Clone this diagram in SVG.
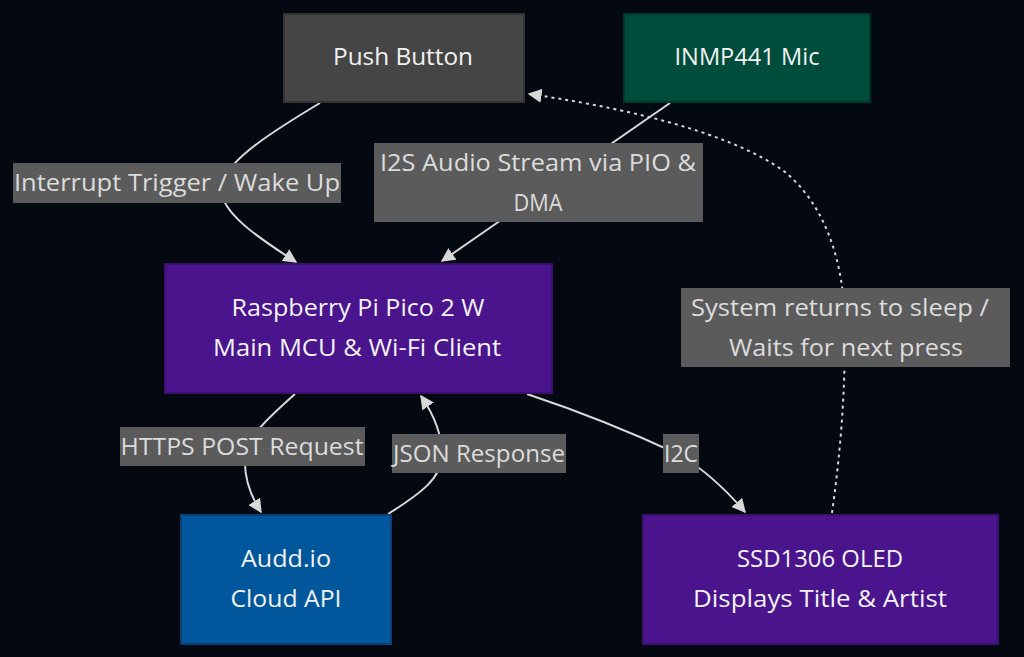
<svg xmlns="http://www.w3.org/2000/svg" width="1024" height="657" viewBox="0 0 1024 657">
<style>
.bg{fill:#040811}
.nt{font-family:"Open Sans","Liberation Sans",sans-serif;font-size:23px;fill:#f2f2f2;text-anchor:middle}
.lt{font-family:"Open Sans","Liberation Sans",sans-serif;font-size:23px;fill:#dcdcdc;text-anchor:middle}
.lb{fill:#5b5b5b}
.e{fill:none;stroke:#d8d8d8;stroke-width:2}
.d{fill:none;stroke:#d8d8d8;stroke-width:2;stroke-dasharray:3 4}
</style>
<defs>
<marker id="ah" viewBox="0 0 10 10" refX="9" refY="5" markerWidth="8" markerHeight="8" markerUnits="userSpaceOnUse" orient="auto">
<path d="M0,0 L10,5 L0,10 z" fill="#d8d8d8"/>
</marker>
<marker id="ah2" viewBox="0 0 10 10" refX="9" refY="5" markerWidth="14" markerHeight="14" markerUnits="userSpaceOnUse" orient="auto">
<path d="M0,0 L10,5 L0,10 z" fill="#d8d8d8"/>
</marker>
</defs>
<rect class="bg" x="0" y="0" width="1024" height="657"/>

<g id="connectors">
<path class="e" d="M320,103 C275,130 230,158 222,183 C214,210 262,240 296,262" marker-end="url(#ah2)"/>
<path class="e" d="M670,103 L442,261" marker-end="url(#ah2)"/>
<path class="e" d="M295,394 C268,418 246,438 245,458 C244,480 252,498 261,512" marker-end="url(#ah2)"/>
<path class="e" d="M388,514 C420,494 442,478 442,455 C442,432 432,412 421,396" marker-end="url(#ah2)"/>
<path class="e" d="M527,394 C590,415 648,440 680,455 C708,472 728,492 745,512" marker-end="url(#ah2)"/>
<path class="d" d="M832,513 C840,455 845,400 845,330 C845,262 825,205 785,172 C725,128 605,105 529,94" marker-end="url(#ah2)"/>
</g>

<g id="label-interrupt">
<rect class="lb" x="13" y="163" width="328" height="40"/>
<text class="lt" x="177" y="191" textLength="326" lengthAdjust="spacingAndGlyphs">Interrupt Trigger / Wake Up</text>
</g>
<g id="label-i2s">
<rect class="lb" x="374" y="143" width="329" height="79"/>
<text class="lt" x="538" y="171" textLength="316" lengthAdjust="spacingAndGlyphs">I2S Audio Stream via PIO &amp;</text>
<text class="lt" x="538" y="211" textLength="49" lengthAdjust="spacingAndGlyphs">DMA</text>
</g>
<g id="label-sleep">
<rect class="lb" x="681" y="288" width="329" height="79"/>
<text class="lt" x="840" y="316" textLength="298" lengthAdjust="spacingAndGlyphs">System returns to sleep /</text>
<text class="lt" x="846" y="356" textLength="234" lengthAdjust="spacingAndGlyphs">Waits for next press</text>
</g>
<g id="label-https">
<rect class="lb" x="120" y="427" width="245" height="39"/>
<text class="lt" x="242" y="455" textLength="243" lengthAdjust="spacingAndGlyphs">HTTPS POST Request</text>
</g>
<g id="label-json">
<rect class="lb" x="392" y="434" width="174" height="39"/>
<text class="lt" x="479" y="462" textLength="172" lengthAdjust="spacingAndGlyphs">JSON Response</text>
</g>
<g id="label-i2c">
<rect class="lb" x="663" y="434" width="36" height="39"/>
<text class="lt" x="681" y="462" textLength="34" lengthAdjust="spacingAndGlyphs">I2C</text>
</g>

<g id="push-button">
<rect x="284" y="14" width="240" height="88" fill="#454545" stroke="#333333" stroke-width="2"/>
<text class="nt" x="403" y="65" textLength="140" lengthAdjust="spacingAndGlyphs">Push Button</text>
</g>
<g id="mic">
<rect x="624" y="14" width="246" height="88" fill="#004d3c" stroke="#00382c" stroke-width="2"/>
<text class="nt" x="747" y="65" textLength="145" lengthAdjust="spacingAndGlyphs">INMP441 Mic</text>
</g>
<g id="pico">
<rect x="165" y="264" width="387" height="129" fill="#4a148c" stroke="#3a0f70" stroke-width="2"/>
<text class="nt" x="358" y="316" textLength="253" lengthAdjust="spacingAndGlyphs">Raspberry Pi Pico 2 W</text>
<text class="nt" x="357" y="356" textLength="288" lengthAdjust="spacingAndGlyphs">Main MCU &amp; Wi-Fi Client</text>
</g>
<g id="audd">
<rect x="181" y="515" width="210" height="129" fill="#01579b" stroke="#0d3f73" stroke-width="2"/>
<text class="nt" x="286" y="567" textLength="90" lengthAdjust="spacingAndGlyphs">Audd.io</text>
<text class="nt" x="286" y="607" textLength="111" lengthAdjust="spacingAndGlyphs">Cloud API</text>
</g>
<g id="oled">
<rect x="643" y="515" width="355" height="129" fill="#4a148c" stroke="#3a0f70" stroke-width="2"/>
<text class="nt" x="820" y="567" textLength="166" lengthAdjust="spacingAndGlyphs">SSD1306 OLED</text>
<text class="nt" x="820" y="607" textLength="254" lengthAdjust="spacingAndGlyphs">Displays Title &amp; Artist</text>
</g>
</svg>
